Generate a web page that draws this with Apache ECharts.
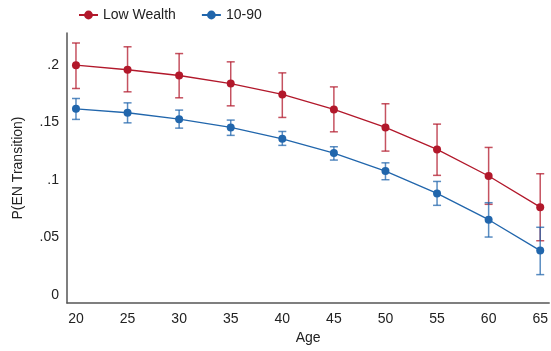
<!DOCTYPE html>
<html>
<head>
<meta charset="utf-8">
<script src="https://cdn.jsdelivr.net/npm/echarts@6/dist/echarts.min.js"></script>
<style>html,body{margin:0;padding:0;background:#fff}#c{width:551px;height:351px}</style>
</head>
<body>
<div id="c"></div>
<script>
const ages = [20, 25, 30, 35, 40, 45, 50, 55, 60, 65];
const lowWealth = [0.200, 0.196, 0.191, 0.184, 0.1745, 0.1615, 0.1458, 0.1267, 0.1035, 0.0764];
const lowWealthHi = [0.2193, 0.216, 0.2101, 0.2029, 0.1933, 0.1811, 0.1664, 0.1487, 0.1284, 0.1055];
const lowWealthLo = [0.1797, 0.1768, 0.1716, 0.1646, 0.1545, 0.142, 0.1252, 0.1041, 0.0789, 0.0472];
const mid = [0.162, 0.1586, 0.153, 0.1458, 0.1359, 0.1235, 0.1078, 0.0884, 0.0655, 0.0386];
const midHi = [0.171, 0.1672, 0.1609, 0.1522, 0.1423, 0.129, 0.115, 0.0988, 0.0803, 0.0589];
const midLo = [0.1528, 0.1498, 0.1452, 0.1389, 0.1302, 0.1174, 0.1003, 0.078, 0.0504, 0.0177];
const yTicks = [0, 0.05, 0.1, 0.15, 0.2];

const RED = '#b2182b', BLUE = '#2166ac';
const font = 'Liberation Sans, Arial, sans-serif';

function errSeries(name, lo, hi, color) {
  return {
    type: 'custom', name: name, z: 1, silent: true,
    data: ages.map((a, i) => [a, lo[i], hi[i]]),
    renderItem: function (params, api) {
      const p1 = api.coord([api.value(0), api.value(1)]);
      const p2 = api.coord([api.value(0), api.value(2)]);
      const w = 4;
      const st = { stroke: color, lineWidth: 1.5, opacity: 0.75 };
      return { type: 'group', children: [
        { type: 'line', shape: { x1: p1[0], y1: p1[1], x2: p2[0], y2: p2[1] }, style: st },
        { type: 'line', shape: { x1: p1[0] - w, y1: p1[1], x2: p1[0] + w, y2: p1[1] }, style: st },
        { type: 'line', shape: { x1: p2[0] - w, y1: p2[1], x2: p2[0] + w, y2: p2[1] }, style: st }
      ]};
    }
  };
}

const chart = echarts.init(document.getElementById('c'), null, { renderer: 'canvas' });
chart.setOption({
  animation: false,
  textStyle: { fontFamily: font },
  grid: { left: 67, right: 0, top: 33, bottom: 48, containLabel: false },
  legend: {
    left: 73, top: 3, itemWidth: 19, itemHeight: 11, itemGap: 25,
    textStyle: { fontSize: 14, color: '#222', fontFamily: font },
    data: ['Low Wealth', '10-90']
  },
  xAxis: {
    type: 'value', min: 19.13, max: 65.87,
    name: 'Age', nameLocation: 'middle', nameGap: 28,
    nameTextStyle: { fontSize: 14, color: '#222' },
    axisLine: { onZero: false, lineStyle: { color: '#555', width: 1.5 } },
    axisTick: { show: false },
    splitLine: { show: false },
    axisLabel: { customValues: ages, fontSize: 14, color: '#222', margin: 9 }
  },
  yAxis: {
    type: 'value', min: -0.007, max: 0.228,
    name: 'P(EN Transition)', nameLocation: 'middle', nameGap: 42,
    nameTextStyle: { fontSize: 14, color: '#222' },
    axisLine: { show: true, onZero: false, lineStyle: { color: '#555', width: 1.5 } },
    axisTick: { show: false },
    splitLine: { show: false },
    axisLabel: {
      customValues: yTicks, fontSize: 14, color: '#222', margin: 8,
      formatter: v => v === 0 ? '0' : String(+v.toFixed(2)).replace(/^0/, '')
    }
  },
  series: [
    errSeries('Low Wealth CI', lowWealthLo, lowWealthHi, RED),
    errSeries('10-90 CI', midLo, midHi, BLUE),
    {
      name: 'Low Wealth', type: 'line', z: 3,
      data: ages.map((a, i) => [a, lowWealth[i]]),
      symbol: 'circle', symbolSize: 8,
      itemStyle: { color: RED }, lineStyle: { color: RED, width: 1.3 }
    },
    {
      name: '10-90', type: 'line', z: 3,
      data: ages.map((a, i) => [a, mid[i]]),
      symbol: 'circle', symbolSize: 8,
      itemStyle: { color: BLUE }, lineStyle: { color: BLUE, width: 1.3 }
    }
  ]
});
</script>
</body>
</html>
